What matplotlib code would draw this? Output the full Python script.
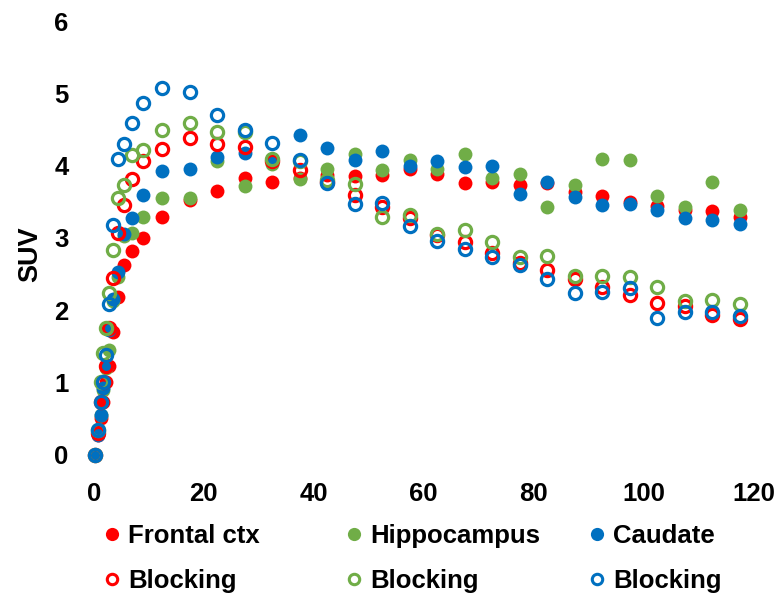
import matplotlib
matplotlib.use("Agg")
import matplotlib.pyplot as plt
from matplotlib.lines import Line2D

plt.rcParams['font.family'] = ['Liberation Sans', 'DejaVu Sans']
plt.rcParams['font.weight'] = 'bold'

# Frame mid-times (min)
time_min = [0.25, 0.75, 1.25, 1.75, 2.25, 2.75, 3.5, 4.5, 5.5, 7, 9,
            12.5, 17.5, 22.5, 27.5, 32.5, 37.5, 42.5, 47.5, 52.5, 57.5,
            62.5, 67.5, 72.5, 77.5, 82.5, 87.5, 92.5, 97.5, 102.5, 107.5,
            112.5, 117.5]

# Baseline SUV
frontal = [0.0, 0.27, 0.50, 0.73, 1.00, 1.22, 1.70, 2.18, 2.62, 2.82, 3.00,
           3.29, 3.52, 3.65, 3.83, 3.78, 3.83, 3.87, 3.86, 3.87, 3.96,
           3.89, 3.76, 3.78, 3.73, 3.76, 3.64, 3.58, 3.50, 3.44, 3.39,
           3.37, 3.29]
hippocampus = [0.0, 0.34, 0.55, 0.90, 1.20, 1.45, 2.12, 2.46, 3.02, 3.07, 3.29,
               3.55, 3.55, 4.06, 3.72, 4.02, 3.81, 3.96, 4.16, 3.94, 4.08,
               3.96, 4.16, 3.83, 3.89, 3.43, 3.73, 4.09, 4.08, 3.58, 3.43,
               3.77, 3.38]
caudate = [0.0, 0.27, 0.55, 0.92, 1.22, 1.72, 2.15, 2.53, 3.05, 3.28, 3.59,
           3.93, 3.96, 4.12, 4.17, 4.08, 4.43, 4.24, 4.08, 4.21, 4.00,
           4.06, 3.98, 3.99, 3.61, 3.78, 3.56, 3.45, 3.47, 3.39, 3.27,
           3.25, 3.19]

# Blocking SUV
frontal_blk = [0.0, 0.30, 0.73, 1.00, 1.22, 1.75, 2.44, 3.07, 3.46, 3.81, 4.06,
               4.23, 4.38, 4.30, 4.26, 4.06, 3.94, 3.78, 3.59, 3.43, 3.27,
               3.04, 2.95, 2.79, 2.65, 2.55, 2.43, 2.32, 2.21, 2.10, 2.05,
               1.93, 1.87]
hippocampus_blk = [0.0, 0.34, 1.00, 1.40, 1.75, 2.23, 2.83, 3.55, 3.73, 4.15, 4.22,
                   4.50, 4.59, 4.46, 4.47, 4.09, 4.06, 3.80, 3.75, 3.29, 3.32,
                   3.05, 3.11, 2.94, 2.73, 2.75, 2.47, 2.47, 2.46, 2.32, 2.12,
                   2.14, 2.08]
caudate_blk = [0.0, 0.34, 0.73, 1.00, 1.38, 2.09, 3.18, 4.09, 4.30, 4.59, 4.87,
               5.07, 5.02, 4.70, 4.49, 4.31, 4.08, 3.76, 3.47, 3.48, 3.17,
               2.96, 2.85, 2.73, 2.62, 2.43, 2.23, 2.25, 2.30, 1.89, 1.98,
               1.97, 1.92]

RED = '#FF0000'
GREEN = '#70AD47'
BLUE = '#0070C0'

fig = plt.figure(figsize=(7.81, 5.96), dpi=100)
ax = fig.add_axes([0.12, 0.2374, 0.845, 0.7269])

filled = [(frontal, RED), (hippocampus, GREEN), (caudate, BLUE)]
hollow = [(frontal_blk, RED), (hippocampus_blk, GREEN), (caudate_blk, BLUE)]

for vals, col in filled:
    ax.plot(time_min, vals, linestyle='none', marker='o', ms=10,
            mfc=col, mec=col, mew=0, clip_on=False)
for vals, col in hollow:
    ax.plot(time_min, vals, linestyle='none', marker='o', ms=8.8,
            mfc='none', mec=col, mew=2.3, clip_on=False)

ax.set_xlim(0, 120)
ax.set_ylim(0, 6)
ax.set_xticks(range(0, 121, 20))
ax.set_yticks(range(0, 7))
for s in ax.spines.values():
    s.set_visible(False)
ax.tick_params(axis='both', length=0, labelsize=18.5)
ax.tick_params(axis='x', pad=20)
ax.tick_params(axis='y', pad=18)
for lbl in ax.get_xticklabels() + ax.get_yticklabels():
    lbl.set_fontweight('bold')

fig.text(30 / 781, 1 - 254 / 596, 'SUV', rotation=90, ha='center',
         va='center', fontsize=19.5, fontweight='bold')

names = ['Frontal ctx', 'Hippocampus', 'Caudate']
col_x = [104, 346, 589]
for name, col, x in zip(names, [RED, GREEN, BLUE], col_x):
    handles = [
        Line2D([], [], linestyle='none', marker='o', ms=9.5, mfc=col,
               mec=col, mew=0),
        Line2D([], [], linestyle='none', marker='o', ms=7.5, mfc='none',
               mec=col, mew=2.2),
    ]
    fig.legend(handles, [name, 'Blocking'], loc='upper left',
               bbox_to_anchor=(x / 781, 1 - 524 / 596), frameon=False,
               prop={'size': 18.5, 'weight': 'bold'}, handlelength=0.6,
               handletextpad=0.35, labelspacing=0.8, borderpad=0,
               borderaxespad=0)

fig.savefig('out.png', dpi=100)
